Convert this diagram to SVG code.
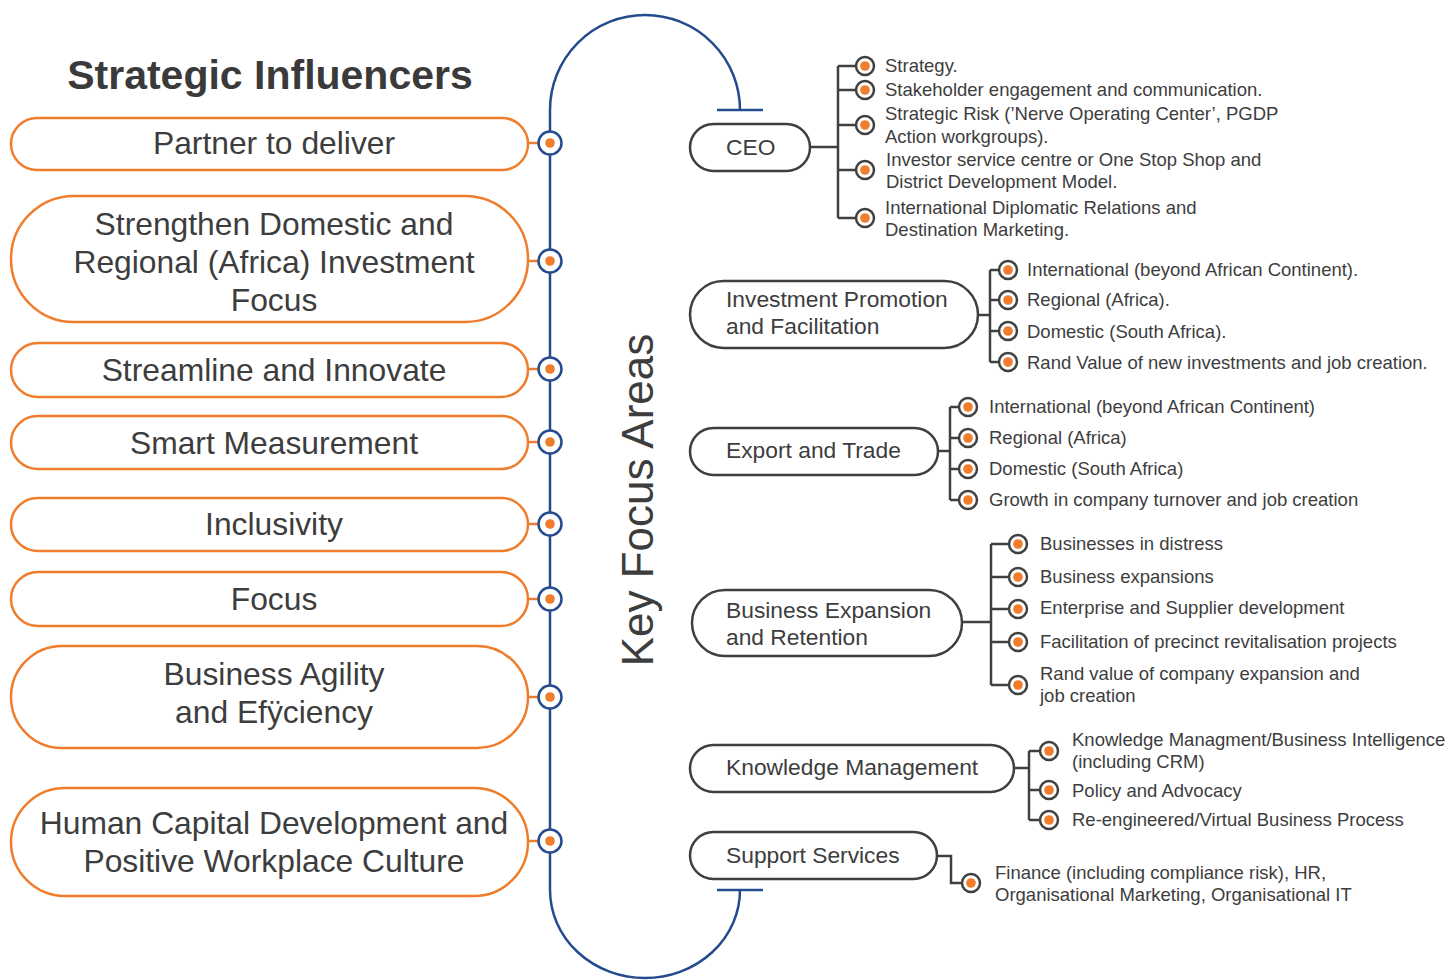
<svg xmlns="http://www.w3.org/2000/svg" width="1451" height="980" viewBox="0 0 1451 980">
  <defs>
    <style>
      .title { font-family: "Liberation Sans", Arial, sans-serif; font-weight: bold; font-size: 41px; fill: #3a3a3a; }
      .inf-box { fill: #ffffff; stroke: #ef7d2c; stroke-width: 2.5; }
      .inf-txt { font-family: "Liberation Sans", Arial, sans-serif; font-size: 31.8px; fill: #3d3d3d; text-anchor: middle; }
      .kfa-box { fill: #ffffff; stroke: #3f3f3f; stroke-width: 2.5; }
      .kfa-txt { font-family: "Liberation Sans", Arial, sans-serif; font-size: 22.8px; fill: #3d3d3d; }
      .item-txt { font-family: "Liberation Sans", Arial, sans-serif; font-size: 18.5px; fill: #3d3d3d; }
      .spine { fill: none; stroke: #234b8d; stroke-width: 2.5; }
      .joint { fill: #ffffff; stroke: #234b8d; stroke-width: 2.5; }
      .tie { stroke: #ef7d2c; stroke-width: 2.5; }
      .dot { fill: #ef7d2c; }
      .branch { fill: none; stroke: #404040; stroke-width: 2.5; }
      .bullet { fill: #ffffff; stroke: #404040; stroke-width: 2.5; }
      .vlabel { font-family: "Liberation Sans", Arial, sans-serif; font-size: 44px; fill: #3d3d3d; text-anchor: middle; }
    </style>
    <g id="bul">
      <circle class="bullet" cx="0" cy="0" r="9"/>
      <circle class="dot" cx="0" cy="0" r="4.8"/>
    </g>
  </defs>

  <rect x="0" y="0" width="1451" height="980" fill="#ffffff"/>

  <text class="title" x="270" y="89" text-anchor="middle">Strategic Influencers</text>

  <!-- central spine with end caps -->
  <g id="connectors">
    <path class="spine" d="M740,890 A95,88 0 0 1 550,890 L550,110 A95,95 0 0 1 740,110"/>
    <line class="spine" x1="717" y1="110" x2="763" y2="110"/>
    <line class="spine" x1="717" y1="890" x2="763" y2="890"/>

    <!-- influencer ties -->
    <line class="tie" x1="528" y1="143" x2="550" y2="143"/>
    <line class="tie" x1="528" y1="261" x2="550" y2="261"/>
    <line class="tie" x1="528" y1="369" x2="550" y2="369"/>
    <line class="tie" x1="528" y1="442" x2="550" y2="442"/>
    <line class="tie" x1="528" y1="524" x2="550" y2="524"/>
    <line class="tie" x1="528" y1="599" x2="550" y2="599"/>
    <line class="tie" x1="528" y1="697" x2="550" y2="697"/>
    <line class="tie" x1="528" y1="841" x2="550" y2="841"/>

    <!-- focus area trees -->
    <path class="branch" d="M810,147 H838 M838,66 V218 M838,66 H856 M838,90 H856 M838,125 H856 M838,170 H856 M838,218 H856"/>
    <path class="branch" d="M978,315 H990 M990,270 V362 M990,270 H999 M990,300 H999 M990,331 H999 M990,362 H999"/>
    <path class="branch" d="M938,451 H950 M950,407 V500 M950,407 H959 M950,438 H959 M950,469 H959 M950,500 H959"/>
    <path class="branch" d="M962,622 H991 M991,544 V685 M991,544 H1009 M991,577 H1009 M991,609 H1009 M991,642 H1009 M991,685 H1009"/>
    <path class="branch" d="M1014,768 H1029 M1029,751 V820 M1029,751 H1040 M1029,790 H1040 M1029,820 H1040"/>
    <path class="branch" d="M937,856 H951 V883 H962"/>
  </g>

  <!-- spine joints -->
  <g id="joints">
    <circle class="joint" cx="550" cy="143" r="11.5"/><circle class="dot" cx="550" cy="143" r="4.8"/>
    <circle class="joint" cx="550" cy="261" r="11.5"/><circle class="dot" cx="550" cy="261" r="4.8"/>
    <circle class="joint" cx="550" cy="369" r="11.5"/><circle class="dot" cx="550" cy="369" r="4.8"/>
    <circle class="joint" cx="550" cy="442" r="11.5"/><circle class="dot" cx="550" cy="442" r="4.8"/>
    <circle class="joint" cx="550" cy="524" r="11.5"/><circle class="dot" cx="550" cy="524" r="4.8"/>
    <circle class="joint" cx="550" cy="599" r="11.5"/><circle class="dot" cx="550" cy="599" r="4.8"/>
    <circle class="joint" cx="550" cy="697" r="11.5"/><circle class="dot" cx="550" cy="697" r="4.8"/>
    <circle class="joint" cx="550" cy="841" r="11.5"/><circle class="dot" cx="550" cy="841" r="4.8"/>
  </g>

  <!-- strategic influencers -->
  <g id="inf-partner">
    <rect class="inf-box" x="11" y="118" width="517" height="52" rx="26"/>
    <text class="inf-txt" x="274" y="154">Partner to deliver</text>
  </g>
  <g id="inf-strengthen">
    <rect class="inf-box" x="11" y="196" width="517" height="126" rx="63"/>
    <text class="inf-txt" x="274" y="235">Strengthen Domestic and</text>
    <text class="inf-txt" x="274" y="273">Regional (Africa) Investment</text>
    <text class="inf-txt" x="274" y="311">Focus</text>
  </g>
  <g id="inf-streamline">
    <rect class="inf-box" x="11" y="343" width="517" height="54" rx="27"/>
    <text class="inf-txt" x="274" y="381">Streamline and Innovate</text>
  </g>
  <g id="inf-measure">
    <rect class="inf-box" x="11" y="416" width="517" height="53" rx="26.5"/>
    <text class="inf-txt" x="274" y="454">Smart Measurement</text>
  </g>
  <g id="inf-inclusivity">
    <rect class="inf-box" x="11" y="498" width="517" height="53" rx="26.5"/>
    <text class="inf-txt" x="274" y="535">Inclusivity</text>
  </g>
  <g id="inf-focus">
    <rect class="inf-box" x="11" y="572" width="517" height="54" rx="27"/>
    <text class="inf-txt" x="274" y="610">Focus</text>
  </g>
  <g id="inf-agility">
    <rect class="inf-box" x="11" y="646" width="517" height="102" rx="51"/>
    <text class="inf-txt" x="274" y="685">Business Agility</text>
    <text class="inf-txt" x="274" y="723">and Efÿciency</text>
  </g>
  <g id="inf-human">
    <rect class="inf-box" x="11" y="788" width="517" height="108" rx="54"/>
    <text class="inf-txt" x="274" y="834">Human Capital Development and</text>
    <text class="inf-txt" x="274" y="872">Positive Workplace Culture</text>
  </g>

  <text class="vlabel" transform="translate(653,500) rotate(-90)">Key Focus Areas</text>

  <!-- key focus areas -->
  <g id="kfa-ceo">
    <rect class="kfa-box" x="690" y="124" width="120" height="47" rx="23.5"/>
    <text class="kfa-txt" x="726" y="155">CEO</text>
    <use href="#bul" x="865" y="66"/>
    <use href="#bul" x="865" y="90"/>
    <use href="#bul" x="865" y="125"/>
    <use href="#bul" x="865" y="170"/>
    <use href="#bul" x="865" y="218"/>
    <text class="item-txt" x="885" y="72">Strategy.</text>
    <text class="item-txt" x="885" y="96">Stakeholder engagement and communication.</text>
    <text class="item-txt" x="885" y="120">Strategic Risk (’Nerve Operating Center’, PGDP</text>
    <text class="item-txt" x="885" y="143">Action workgroups).</text>
    <text class="item-txt" x="886" y="166">Investor service centre or One Stop Shop and</text>
    <text class="item-txt" x="886" y="188">District Development Model.</text>
    <text class="item-txt" x="885" y="214">International Diplomatic Relations and</text>
    <text class="item-txt" x="885" y="236">Destination Marketing.</text>
  </g>

  <g id="kfa-investment">
    <rect class="kfa-box" x="690" y="281" width="288" height="67" rx="33.5"/>
    <text class="kfa-txt" x="726" y="307">Investment Promotion</text>
    <text class="kfa-txt" x="726" y="334">and Facilitation</text>
    <use href="#bul" x="1008" y="270"/>
    <use href="#bul" x="1008" y="300"/>
    <use href="#bul" x="1008" y="331"/>
    <use href="#bul" x="1008" y="362"/>
    <text class="item-txt" x="1027" y="276">International (beyond African Continent).</text>
    <text class="item-txt" x="1027" y="306">Regional (Africa).</text>
    <text class="item-txt" x="1027" y="338">Domestic (South Africa).</text>
    <text class="item-txt" x="1027" y="369">Rand Value of new investments and job creation.</text>
  </g>

  <g id="kfa-export">
    <rect class="kfa-box" x="690" y="428" width="248" height="47" rx="23.5"/>
    <text class="kfa-txt" x="726" y="458">Export and Trade</text>
    <use href="#bul" x="968" y="407"/>
    <use href="#bul" x="968" y="438"/>
    <use href="#bul" x="968" y="469"/>
    <use href="#bul" x="968" y="500"/>
    <text class="item-txt" x="989" y="413">International (beyond African Continent)</text>
    <text class="item-txt" x="989" y="444">Regional (Africa)</text>
    <text class="item-txt" x="989" y="475">Domestic (South Africa)</text>
    <text class="item-txt" x="989" y="506">Growth in company turnover and job creation</text>
  </g>

  <g id="kfa-expansion">
    <rect class="kfa-box" x="692" y="590" width="270" height="66" rx="33"/>
    <text class="kfa-txt" x="726" y="618">Business Expansion</text>
    <text class="kfa-txt" x="726" y="645">and Retention</text>
    <use href="#bul" x="1018" y="544"/>
    <use href="#bul" x="1018" y="577"/>
    <use href="#bul" x="1018" y="609"/>
    <use href="#bul" x="1018" y="642"/>
    <use href="#bul" x="1018" y="685"/>
    <text class="item-txt" x="1040" y="550">Businesses in distress</text>
    <text class="item-txt" x="1040" y="583">Business expansions</text>
    <text class="item-txt" x="1040" y="614">Enterprise and Supplier development</text>
    <text class="item-txt" x="1040" y="648">Facilitation of precinct revitalisation projects</text>
    <text class="item-txt" x="1040" y="680">Rand value of company expansion and</text>
    <text class="item-txt" x="1040" y="702">job creation</text>
  </g>

  <g id="kfa-knowledge">
    <rect class="kfa-box" x="690" y="745" width="324" height="47" rx="23.5"/>
    <text class="kfa-txt" x="726" y="775">Knowledge Management</text>
    <use href="#bul" x="1049" y="751"/>
    <use href="#bul" x="1049" y="790"/>
    <use href="#bul" x="1049" y="820"/>
    <text class="item-txt" x="1072" y="746">Knowledge Managment/Business Intelligence</text>
    <text class="item-txt" x="1072" y="768">(including CRM)</text>
    <text class="item-txt" x="1072" y="797">Policy and Advocacy</text>
    <text class="item-txt" x="1072" y="826">Re-engineered/Virtual Business Process</text>
  </g>

  <g id="kfa-support">
    <rect class="kfa-box" x="690" y="832" width="247" height="47" rx="23.5"/>
    <text class="kfa-txt" x="726" y="863">Support Services</text>
    <use href="#bul" x="971" y="883"/>
    <text class="item-txt" x="995" y="879">Finance (including compliance risk), HR,</text>
    <text class="item-txt" x="995" y="901">Organisational Marketing, Organisational IT</text>
  </g>
</svg>
